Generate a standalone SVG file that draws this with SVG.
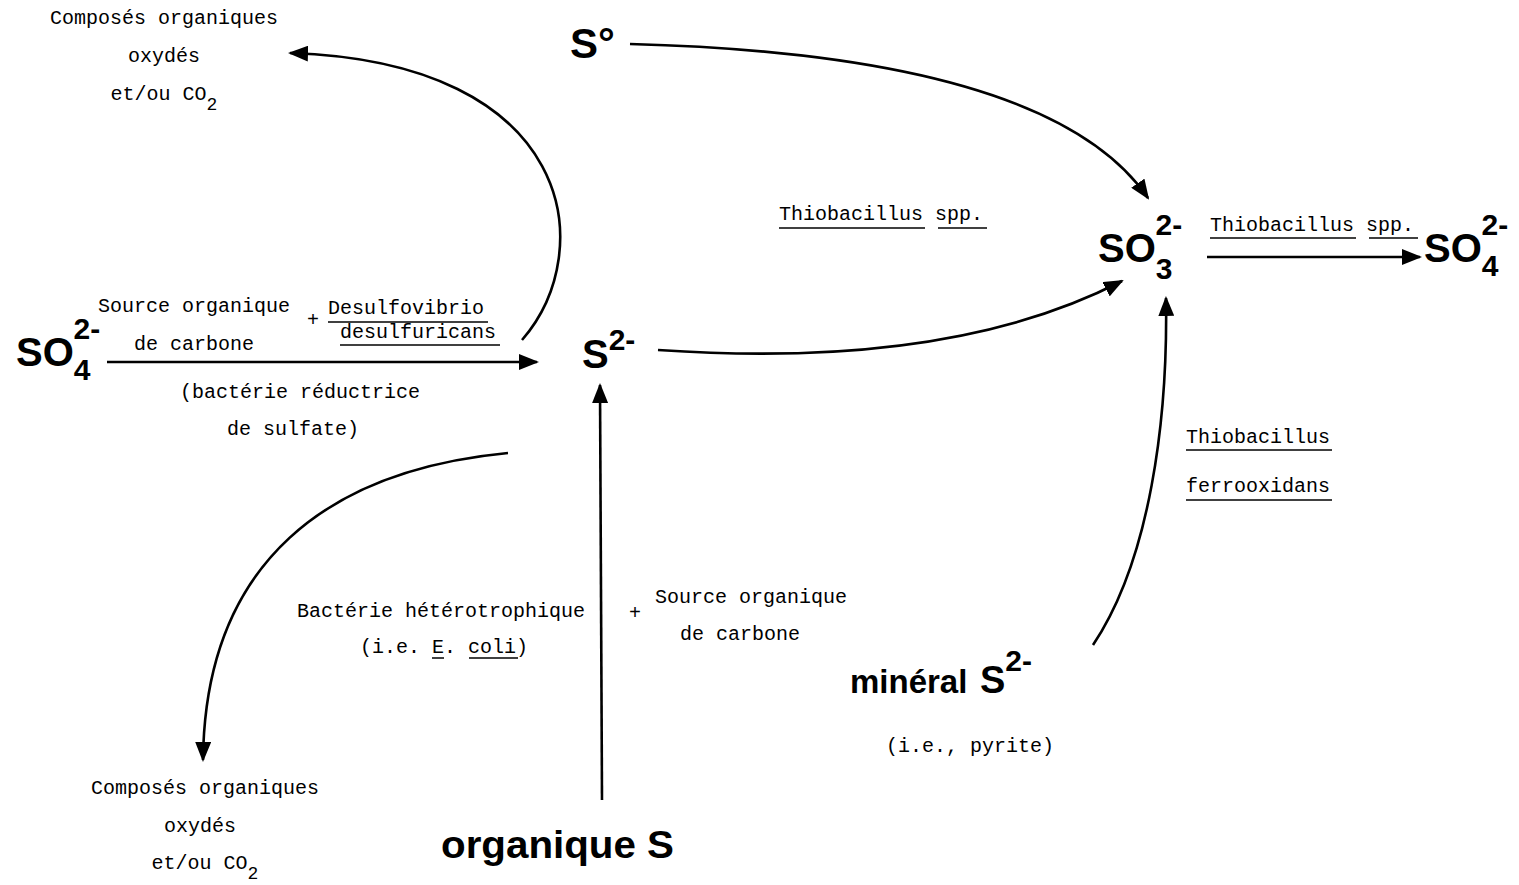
<svg xmlns="http://www.w3.org/2000/svg" width="1519" height="885" viewBox="0 0 1519 885">
<style>
.t{font-family:"Liberation Mono","Courier New",monospace;font-size:20px;fill:#000}
.th{font-family:"Liberation Mono","DejaVu Sans Mono",monospace;font-size:20px;fill:#000}
.b{font-family:"Liberation Sans",Arial,sans-serif;font-weight:bold;fill:#000}
.ln{fill:none;stroke:#000;stroke-width:2.6}
.ul{stroke:#000;stroke-width:1.5}
</style>
<defs>
<marker id="ah" markerWidth="20" markerHeight="16" refX="18" refY="8" orient="auto" markerUnits="userSpaceOnUse">
<path d="M0,0 L20,8 L0,16 Z" fill="#000"/>
</marker>
</defs>
<rect width="1519" height="885" fill="#fff"/>

<g id="connectors">
<path class="ln" d="M630,44 Q1050,55 1148,198" marker-end="url(#ah)"/>
<path class="ln" d="M522,340 C600,250 575,62 290,53" marker-end="url(#ah)"/>
<path class="ln" d="M107,362 L537,362" marker-end="url(#ah)"/>
<path class="ln" d="M658,350 Q950,370 1122,281" marker-end="url(#ah)"/>
<path class="ln" d="M1207,257 L1420,257" marker-end="url(#ah)"/>
<path class="ln" d="M602,800 L600,385" marker-end="url(#ah)"/>
<path class="ln" d="M508,453 C330,470 205,560 203,760" marker-end="url(#ah)"/>
<path class="ln" d="M1093,645 C1150,560 1168,420 1166,298" marker-end="url(#ah)"/>
</g>

<g id="top-left-products">
<text class="t" x="164" y="24" text-anchor="middle">Composés organiques</text>
<text class="t" x="164" y="62" text-anchor="middle">oxydés</text>
<text class="t" x="164" y="100" text-anchor="middle">et/ou CO<tspan dy="10" font-size="18">2</tspan></text>
</g>

<g id="S0">
<text class="b" x="570" y="58" font-size="42">S°</text>
</g>

<g id="label-thio-top">
<text class="th" x="779" y="220">Thiobacillus spp.</text>
<line class="ul" x1="779" y1="228" x2="925" y2="228"/>
<line class="ul" x1="938" y1="228" x2="987" y2="228"/>
</g>

<g id="SO3">
<text class="b" x="1098" y="262" font-size="40">SO<tspan dy="17" font-size="30">3</tspan><tspan dx="-17" dy="-44" font-size="30">2-</tspan></text>
</g>

<g id="label-thio-right">
<text class="th" x="1210" y="231">Thiobacillus spp.</text>
<line class="ul" x1="1210" y1="238" x2="1356" y2="238"/>
<line class="ul" x1="1369" y1="238" x2="1418" y2="238"/>
</g>

<g id="SO4-right">
<text class="b" x="1424" y="262" font-size="40">SO<tspan dy="14" font-size="30">4</tspan><tspan dx="-17" dy="-41" font-size="30">2-</tspan></text>
</g>

<g id="SO4-left">
<text class="b" x="16" y="366" font-size="40">SO<tspan dy="14" font-size="30">4</tspan><tspan dx="-17" dy="-41" font-size="30">2-</tspan></text>
</g>

<g id="label-reduction">
<text class="t" x="98" y="312">Source organique</text>
<text class="t" x="134" y="350">de carbone</text>
<text class="t" x="307" y="326">+</text>
<text class="th" x="328" y="314">Desulfovibrio</text>
<line class="ul" x1="328" y1="322" x2="488" y2="322"/>
<text class="th" x="340" y="338">desulfuricans</text>
<line class="ul" x1="340" y1="345" x2="500" y2="345"/>
<text class="t" x="300" y="398" text-anchor="middle">(bactérie réductrice</text>
<text class="t" x="293" y="435" text-anchor="middle">de sulfate)</text>
</g>

<g id="S2">
<text class="b" x="582" y="368" font-size="40">S<tspan dy="-18" font-size="30">2-</tspan></text>
</g>

<g id="label-hetero">
<text class="t" x="297" y="617">Bactérie hétérotrophique</text>
<text class="t" x="444" y="653" text-anchor="middle">(i.e. E. coli)</text>
<line class="ul" x1="432" y1="658" x2="444" y2="658"/>
<line class="ul" x1="469" y1="658" x2="518" y2="658"/>
<text class="t" x="629" y="619">+</text>
<text class="t" x="655" y="603">Source organique</text>
<text class="t" x="680" y="640">de carbone</text>
</g>

<g id="bottom-left-products">
<text class="t" x="205" y="794" text-anchor="middle">Composés organiques</text>
<text class="t" x="200" y="832" text-anchor="middle">oxydés</text>
<text class="t" x="205" y="869" text-anchor="middle">et/ou CO<tspan dy="10" font-size="18">2</tspan></text>
</g>

<g id="organique-S">
<text class="b" x="441" y="858" font-size="38" textLength="233" lengthAdjust="spacingAndGlyphs">organique S</text>
</g>

<g id="label-ferro">
<text class="th" x="1186" y="443">Thiobacillus</text>
<line class="ul" x1="1186" y1="450" x2="1332" y2="450"/>
<text class="th" x="1186" y="492">ferrooxidans</text>
<line class="ul" x1="1186" y1="500" x2="1332" y2="500"/>
</g>

<g id="mineral-S">
<text class="b" x="850" y="693" font-size="33">minéral</text>
<text class="b" x="980" y="693" font-size="38">S<tspan dy="-22" font-size="30">2-</tspan></text>
<text class="t" x="970" y="752" text-anchor="middle">(i.e., pyrite)</text>
</g>
</svg>
